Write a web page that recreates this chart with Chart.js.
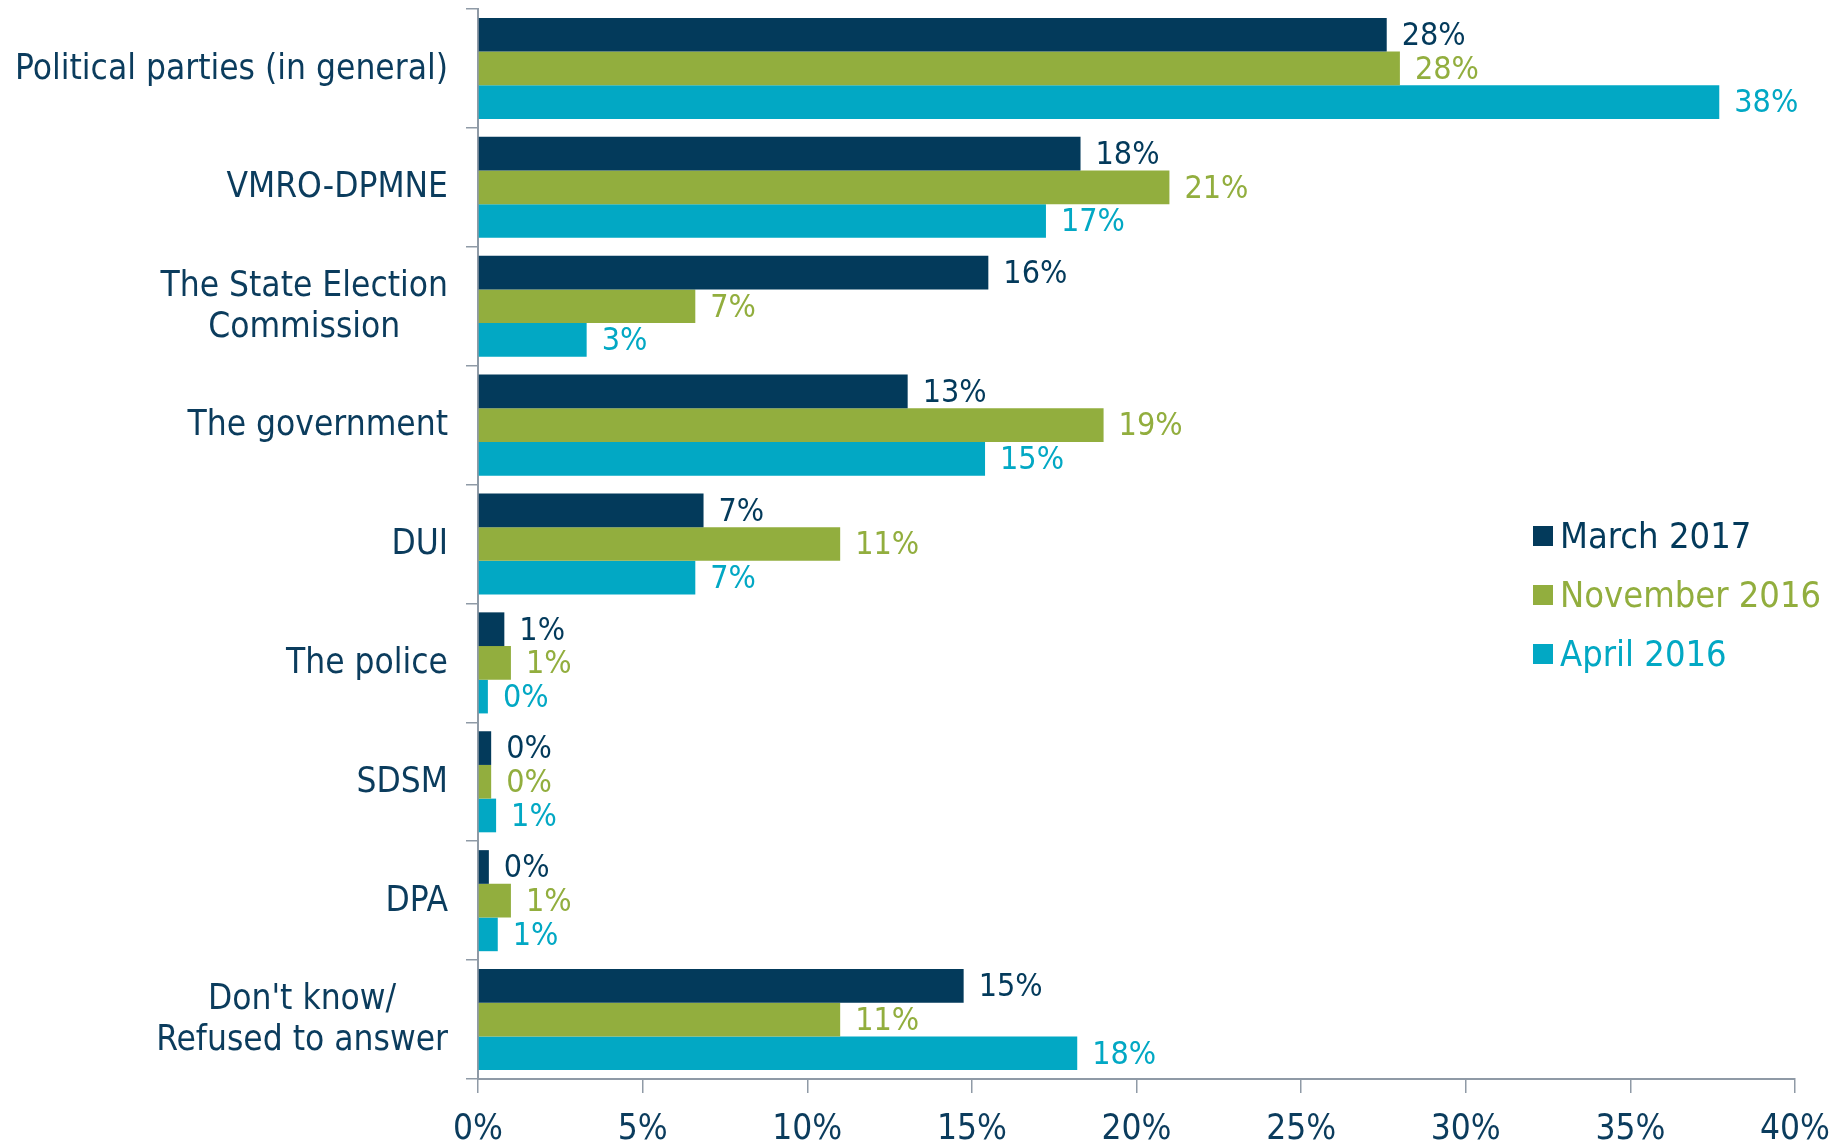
<!doctype html>
<html>
<head>
  <meta charset="utf-8" />
  <title>Trust chart</title>
  <style>
    html,body{margin:0;padding:0;background:#fff}
    body{font-family:"DejaVu Sans Condensed","DejaVu Sans",sans-serif}
    .wrap{position:relative;width:1839px;height:1142px}
    .legend{position:absolute;left:1533px;top:506px;font-size:36px;line-height:59px}
    .legend div{display:flex;align-items:center;white-space:nowrap}
    .legend span.sw{display:inline-block;width:20px;height:20px;margin-right:7px}
  </style>
</head>
<body>
  <div class="wrap">
    <canvas id="c" width="1839" height="1142"></canvas>
    <div class="legend" id="legend"></div>
  </div>

  <script src="https://cdn.jsdelivr.net/npm/chart.js@4.4.1/dist/chart.umd.min.js"></script>
  <script>
    const categories = [
      'Political parties (in general)',
      'VMRO-DPMNE',
      ['The State Election', 'Commission'],
      'The government',
      'DUI',
      'The police',
      'SDSM',
      'DPA',
      ["Don't know/", 'Refused to answer']
    ];
    const seriesNames = ['March 2017', 'November 2016', 'April 2016'];
    const march2017 = [27.6, 18.3, 15.5, 13.05, 6.85, 0.8, 0.4, 0.33, 14.75];
    const nov2016   = [28.0, 21.0, 6.6, 19.0, 11.0, 1.0, 0.4, 1.0, 11.0];
    const apr2016   = [37.7, 17.25, 3.3, 15.4, 6.6, 0.3, 0.55, 0.6, 18.2];
    const xTicks = [0, 5, 10, 15, 20, 25, 30, 35, 40];

    const colors = ['#033a5b', '#92ae3e', '#02a8c4'];
    const textDark = '#0b3c5d';
    const axisGray = '#8f9aa6';
    const FONT = '"DejaVu Sans Condensed","DejaVu Sans",sans-serif';

    // legend
    const lg = document.getElementById('legend');
    seriesNames.forEach((n, i) => {
      const d = document.createElement('div');
      d.style.color = colors[i];
      d.innerHTML = '<span class="sw" style="background:' + colors[i] + '"></span>' + n;
      lg.appendChild(d);
    });

    // value labels at bar ends
    const barLabels = {
      id: 'barLabels',
      afterDatasetsDraw(chart) {
        const c = chart.ctx;
        c.save();
        c.font = '32px ' + FONT;
        c.textAlign = 'left';
        c.textBaseline = 'middle';
        chart.data.datasets.forEach((ds, i) => {
          chart.getDatasetMeta(i).data.forEach((bar, j) => {
            c.fillStyle = colors[i];
            c.fillText(Math.round(ds.data[j]) + '%', bar.x + 15, bar.y + 2);
          });
        });
        c.restore();
      }
    };

    // category labels: block right-aligned, lines centred within the block
    const catLabels = {
      id: 'catLabels',
      afterDraw(chart) {
        const c = chart.ctx, y = chart.scales.y;
        const right = y.right - 12 - 18;
        const lh = 41;
        c.save();
        c.font = '35px ' + FONT;
        c.fillStyle = textDark;
        c.textAlign = 'center';
        c.textBaseline = 'middle';
        chart.data.labels.forEach((lab, i) => {
          const lines = Array.isArray(lab) ? lab : [lab];
          const w = Math.max(...lines.map(l => c.measureText(l).width));
          const cx = right - w / 2;
          const cy = y.getPixelForTick(i);
          lines.forEach((l, k) => {
            c.fillText(l, cx, cy + (k - (lines.length - 1) / 2) * lh + 1);
          });
        });
        c.restore();
      }
    };

    new Chart(document.getElementById('c'), {
      type: 'bar',
      data: {
        labels: categories,
        datasets: [
          { label: seriesNames[0], data: march2017, backgroundColor: colors[0] },
          { label: seriesNames[1], data: nov2016, backgroundColor: colors[1] },
          { label: seriesNames[2], data: apr2016, backgroundColor: colors[2] }
        ]
      },
      options: {
        indexAxis: 'y',
        responsive: false,
        animation: false,
        datasets: { bar: { categoryPercentage: 0.85, barPercentage: 1 } },
        layout: { padding: { top: 9, right: 44, left: 0, bottom: 0 } },
        plugins: { legend: { display: false }, tooltip: { enabled: false } },
        scales: {
          x: {
            min: 0, max: 40,
            afterBuildTicks(s) { s.ticks = xTicks.map(v => ({ value: v })); },
            afterFit(s) { s.height = 63; s.paddingLeft = 0; s.paddingRight = 0; },
            ticks: {
              callback: v => v + '%',
              color: textDark,
              font: { family: FONT, size: 35 },
              padding: 16,
              maxRotation: 0
            },
            grid: { drawOnChartArea: false, color: axisGray, tickLength: 14, lineWidth: 1.5 },
            border: { color: axisGray, width: 2 }
          },
          y: {
            afterFit(s) { s.width = 478; s.paddingTop = 0; s.paddingBottom = 0; },
            ticks: { display: false },
            grid: { drawOnChartArea: false, color: axisGray, tickLength: 12, lineWidth: 1.5, offset: true },
            border: { color: axisGray, width: 2 }
          }
        }
      },
      plugins: [barLabels, catLabels]
    });
  </script>
</body>
</html>
